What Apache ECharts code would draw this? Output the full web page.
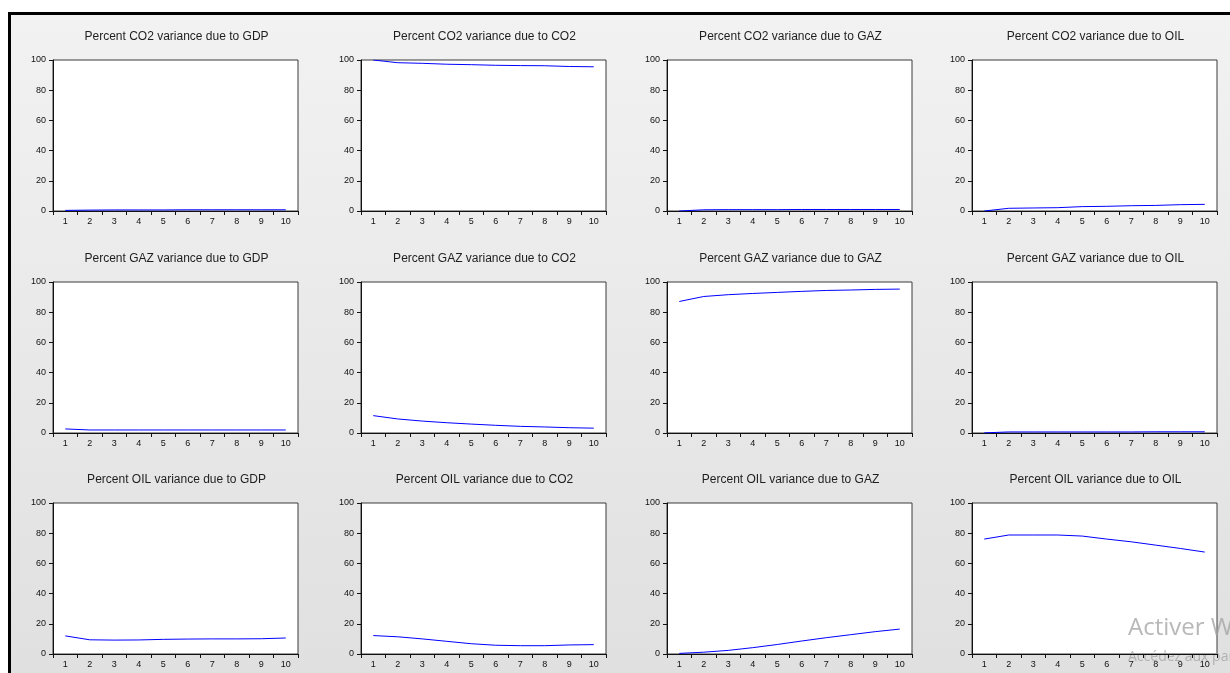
<!DOCTYPE html>
<html>
<head>
<meta charset="utf-8">
<script src="https://cdn.jsdelivr.net/npm/echarts@6/dist/echarts.min.js"></script>
<style>
html,body{margin:0;padding:0;background:#fff;}
#chart{width:1230px;height:673px;}
</style>
</head>
<body>
<div id="chart"></div>
<script>
// ---- data ----
const periods = ['1','2','3','4','5','6','7','8','9','10'];
const yTicks = [0, 20, 40, 60, 80, 100];

const titles = [
  'Percent CO2 variance due to GDP', 'Percent CO2 variance due to CO2',
  'Percent CO2 variance due to GAZ', 'Percent CO2 variance due to OIL',
  'Percent GAZ variance due to GDP', 'Percent GAZ variance due to CO2',
  'Percent GAZ variance due to GAZ', 'Percent GAZ variance due to OIL',
  'Percent OIL variance due to GDP', 'Percent OIL variance due to CO2',
  'Percent OIL variance due to GAZ', 'Percent OIL variance due to OIL'
];

const co2_gdp = [0.4, 0.6, 0.7, 0.7, 0.7, 0.8, 0.8, 0.8, 0.8, 0.8];
const co2_co2 = [100, 98.2, 97.8, 97.2, 96.9, 96.5, 96.3, 96.2, 95.7, 95.5];
const co2_gaz = [0, 0.8, 0.9, 0.9, 0.9, 1.0, 1.0, 1.0, 1.0, 1.0];
const co2_oil = [0, 1.8, 2.0, 2.2, 2.9, 3.1, 3.5, 3.7, 4.2, 4.4];

const gaz_gdp = [2.7, 2.0, 2.0, 2.0, 2.0, 2.0, 2.0, 2.0, 2.0, 2.0];
const gaz_co2 = [11.5, 9.3, 7.9, 6.8, 5.9, 5.1, 4.4, 4.0, 3.5, 3.2];
const gaz_gaz = [87.1, 90.4, 91.6, 92.4, 93.1, 93.8, 94.4, 94.7, 95.1, 95.3];
const gaz_oil = [0.1, 0.7, 0.7, 0.7, 0.7, 0.7, 0.7, 0.8, 0.8, 0.8];

const oil_gdp = [12.0, 9.4, 9.2, 9.3, 9.7, 9.9, 10.0, 10.0, 10.1, 10.6];
const oil_co2 = [12.2, 11.4, 10.0, 8.4, 6.8, 5.8, 5.5, 5.5, 6.0, 6.2];
const oil_gaz = [0.4, 1.2, 2.4, 4.2, 6.3, 8.6, 10.8, 12.8, 14.8, 16.5];
const oil_oil = [76.1, 78.8, 78.8, 78.8, 78.1, 76.1, 74.3, 72.1, 69.9, 67.5];

const seriesData = [
  co2_gdp, co2_co2, co2_gaz, co2_oil,
  gaz_gdp, gaz_co2, gaz_gaz, gaz_oil,
  oil_gdp, oil_co2, oil_gaz, oil_oil
];

// ---- layout ----
const colLefts = [53, 361, 667, 972];
const rowTops = [60, 282, 503];
const gw = 245, gh = 151;
const FONT = '"Liberation Sans", Arial, sans-serif';

const grids = [], xAxes = [], yAxes = [], series = [], graphics = [];

graphics.push({
  type: 'rect', z: -100, silent: true,
  shape: { x: 0, y: 0, width: 1230, height: 673 },
  style: { fill: '#ffffff' }
});
graphics.push({
  type: 'rect', z: -99, silent: true,
  shape: { x: 8, y: 12, width: 1222, height: 661 },
  style: { fill: '#000000' }
});
graphics.push({
  type: 'rect', z: -98, silent: true,
  shape: { x: 11, y: 15, width: 1219, height: 658 },
  style: {
    fill: { type: 'linear', x: 0, y: 0, x2: 0, y2: 1,
      colorStops: [{ offset: 0, color: '#f2f2f2' }, { offset: 1, color: '#e0e0e0' }] }
  }
});

for (let i = 0; i < 12; i++) {
  const r = Math.floor(i / 4), c = i % 4;
  const left = colLefts[c], top = rowTops[r];
  grids.push({
    left: left, top: top, width: gw, height: gh,
    show: true, backgroundColor: '#ffffff', borderColor: '#3a3a3a', borderWidth: 1,
    containLabel: false
  });
  xAxes.push({
    type: 'category', gridIndex: i, data: periods, boundaryGap: true,
    axisLine: { show: true, lineStyle: { color: '#111', width: 1 } },
    axisTick: { show: true, alignWithLabel: false, length: 4, lineStyle: { color: '#111' } },
    axisLabel: { fontSize: 9, color: '#111', margin: 6, fontFamily: FONT, interval: 0 },
    splitLine: { show: false }
  });
  yAxes.push({
    type: 'value', gridIndex: i, min: yTicks[0], max: yTicks[yTicks.length - 1], interval: 20,
    axisLine: { show: true, lineStyle: { color: '#111', width: 1 } },
    axisTick: { show: true, length: 4, lineStyle: { color: '#111' } },
    axisLabel: { fontSize: 9, color: '#111', margin: 7, fontFamily: FONT },
    splitLine: { show: false }
  });
  series.push({
    type: 'line', xAxisIndex: i, yAxisIndex: i, data: seriesData[i],
    symbol: 'none', smooth: false,
    lineStyle: { color: '#0000ff', width: 1 },
    itemStyle: { color: '#0000ff' }
  });
  graphics.push({
    type: 'text', silent: true,
    x: left + gw / 2 + 1, y: top - 23,
    style: {
      text: titles[i], font: '12px ' + FONT, fill: '#1e1e1e',
      textAlign: 'center', align: 'center',
      textVerticalAlign: 'middle', verticalAlign: 'middle'
    }
  });
}

graphics.push({
  type: 'text', silent: true, x: 1128, y: 628,
  style: { text: 'Activer Windows', font: '24px "Open Sans", sans-serif', fill: 'rgba(160,160,160,0.75)',
    textAlign: 'left', align: 'left', textVerticalAlign: 'middle', verticalAlign: 'middle' }
});
graphics.push({
  type: 'text', silent: true, x: 1128, y: 657,
  style: { text: 'Accédez aux paramètres pour activer Windows.', font: '14px "Open Sans", sans-serif', fill: 'rgba(160,160,160,0.75)',
    textAlign: 'left', align: 'left', textVerticalAlign: 'middle', verticalAlign: 'middle' }
});

const chart = echarts.init(document.getElementById('chart'), null, { renderer: 'canvas' });
chart.setOption({
  animation: false,
  backgroundColor: '#ffffff',
  grid: grids,
  xAxis: xAxes,
  yAxis: yAxes,
  series: series,
  graphic: { elements: graphics }
});
</script>
</body>
</html>
